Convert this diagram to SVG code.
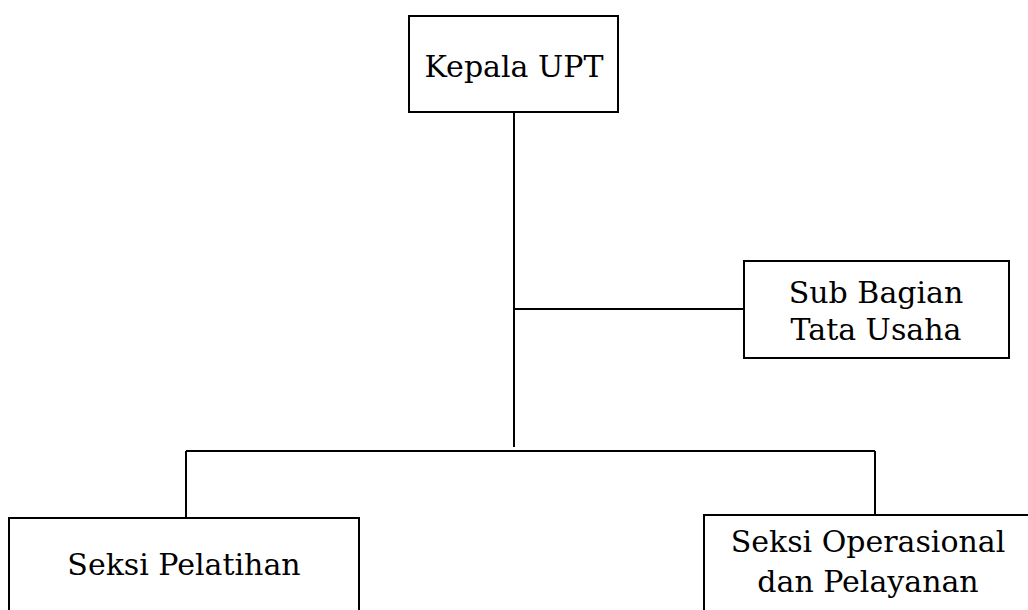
<svg xmlns="http://www.w3.org/2000/svg" width="1028" height="610" viewBox="0 0 1028 610">
  <style>
    .box { fill: #ffffff; stroke: #000000; stroke-width: 2; }
    .link { fill: none; stroke: #000000; stroke-width: 2; }
    .label { font-family: "DejaVu Serif", "Liberation Serif", serif; font-size: 30px; fill: #000000; text-anchor: middle; }
  </style>
  <rect width="1028" height="610" fill="#ffffff"/>

  <g id="connectors">
    <path class="link" d="M514 112 V447"/>
    <path class="link" d="M514 309 H744"/>
    <path class="link" d="M186 451 H875"/>
    <path class="link" d="M186 451 V518"/>
    <path class="link" d="M875 451 V515"/>
  </g>

  <g id="kepala-upt">
    <rect class="box" x="409" y="16" width="209" height="96"/>
    <text class="label" x="514" y="77">Kepala UPT</text>
  </g>

  <g id="sub-bagian-tata-usaha">
    <rect class="box" x="744" y="261" width="265" height="97"/>
    <text class="label" x="876" y="303">Sub Bagian</text>
    <text class="label" x="876" y="340">Tata Usaha</text>
  </g>

  <g id="seksi-pelatihan">
    <rect class="box" x="9" y="518" width="350" height="120"/>
    <text class="label" x="184" y="575">Seksi Pelatihan</text>
  </g>

  <g id="seksi-operasional">
    <rect class="box" x="704" y="515" width="340" height="120"/>
    <text class="label" x="868" y="552">Seksi Operasional</text>
    <text class="label" x="868" y="592">dan Pelayanan</text>
  </g>
</svg>
